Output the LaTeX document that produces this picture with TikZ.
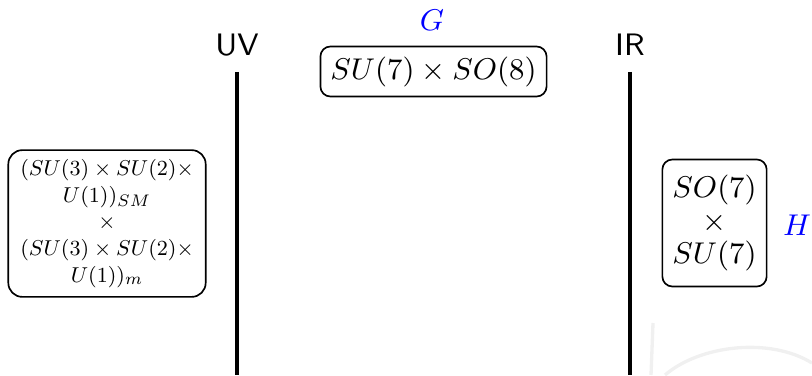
\documentclass[tikz,border=0pt]{standalone}
\usepackage{amsmath, amssymb}
\usepackage{tikz}
\usetikzlibrary{positioning, calc}

\begin{document}
\begin{tikzpicture}[scale=1.054,
            every node/.style={font=\fontsize{9.3}{11.2}\selectfont},
            caja/.style={rectangle, rounded corners=3pt, draw=black, line width=0.5pt, inner sep=3pt, align=center},
            escala/.style={line width=1.3pt, black},
            etiqueta/.style={font=\fontsize{9.3}{11.2}\selectfont\sffamily, inner sep=1pt},
            grupo/.style={text=blue, inner sep=1pt}]

            \useasboundingbox (0,0) rectangle (8.12,3.75);

            % marca de agua
            \draw[black!6, line width=1pt] (6.65,0) .. controls (7.0,0.3) and (7.7,0.38) .. (8.12,0.12);
            \draw[black!6, line width=1pt] (6.53,0.52) -- (6.51,0);

            \node[etiqueta] (uv) at (2.37,3.30) {UV};
            \node[etiqueta] (ir) at (6.30,3.30) {IR};
            \coordinate (uvarriba) at (2.37,3.03);
            \coordinate (uvabajo) at (2.37,0);
            \coordinate (irarriba) at (6.30,3.03);
            \coordinate (irabajo) at (6.30,0);
            \draw[escala] (uvarriba) -- (uvabajo);
            \draw[escala] (irarriba) -- (irabajo);

            \node[grupo] (g) at (4.32,3.55) {$G$};
            \node[caja] (simG) at (4.335,3.035) {$SU(7)\times SO(8)$};

            \node[caja, scale=0.68, transform shape, font=\fontsize{9.3}{11.2}\selectfont,
                  inner xsep=5pt, inner ysep=3.8pt, rounded corners=4.2pt] (sm) at (1.07,1.515)
                {$(SU(3)\times SU(2)\times$\\ $U(1))_{SM}$\\ $\times$\\ $(SU(3)\times SU(2)\times$\\ $U(1))_{m}$};

            \node[caja, font=\fontsize{9.3}{9.75}\selectfont, inner ysep=4.8pt] (simH) at (7.145,1.52) {$SO(7)$\\ $\times$\\ $SU(7)$};
            \node[grupo] (h) at (7.97,1.50) {$H$};
        \end{tikzpicture}
\end{document}
